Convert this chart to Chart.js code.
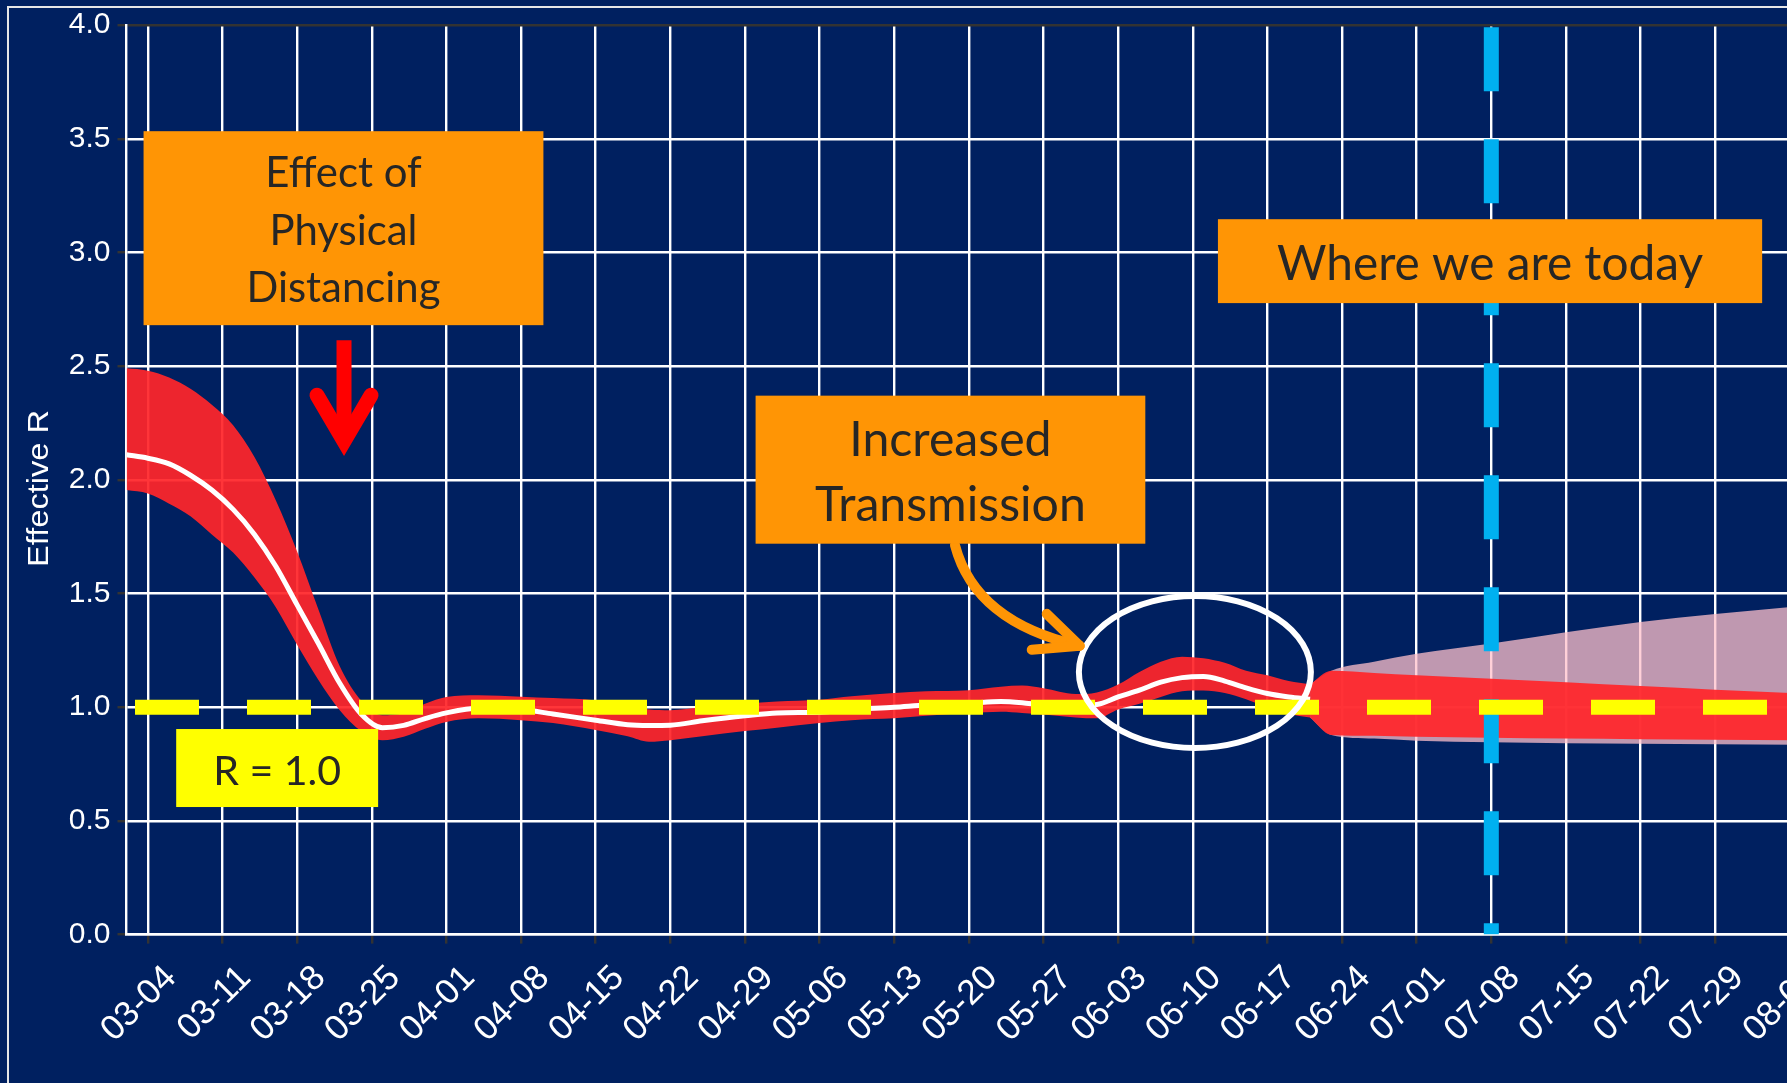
<!DOCTYPE html>
<html lang="en">
<head>
<meta charset="UTF-8" />
<title>Effective R</title>
<style>
  html, body { margin: 0; padding: 0; background: #002060; overflow: hidden; }
  #wrap { width: 1800px; height: 1083px; }
</style>
<script src="https://cdn.jsdelivr.net/npm/chart.js"></script>
</head>
<body>
<div id="wrap"><canvas id="chart" width="1800" height="1083"></canvas></div>
<script>
  // weekly tick labels (MM-DD, 2020)
  const tickLabels = ["03-04", "03-11", "03-18", "03-25", "04-01", "04-08", "04-15", "04-22",
    "04-29", "05-06", "05-13", "05-20", "05-27", "06-03", "06-10", "06-17", "06-24", "07-01",
    "07-08", "07-15", "07-22", "07-29", "08-05"];

  // estimated R: median and interval up to 06-21
  const histDates = ["03-02", "03-04", "03-06", "03-08", "03-10", "03-12", "03-14", "03-16",
    "03-18", "03-20", "03-22", "03-24", "03-26", "03-28", "03-30", "04-01", "04-04", "04-08",
    "04-11", "04-15", "04-18", "04-20", "04-22", "04-25", "04-29", "05-02", "05-06", "05-09",
    "05-13", "05-16", "05-20", "05-23", "05-25", "05-27", "05-30", "06-01", "06-03", "06-05",
    "06-07", "06-09", "06-11", "06-13", "06-15", "06-17", "06-19", "06-21"];
  const histMedian = [2.11, 2.095, 2.07, 2.02, 1.955, 1.87, 1.76, 1.62, 1.45, 1.28, 1.105, 0.97,
    0.91, 0.92, 0.95, 0.975, 0.995, 0.99, 0.97, 0.943, 0.923, 0.92, 0.921, 0.94, 0.962, 0.975,
    0.978, 0.99, 1.0, 1.01, 1.017, 1.025, 1.02, 1.01, 1.008, 1.012, 1.045, 1.075, 1.11, 1.13,
    1.135, 1.115, 1.085, 1.06, 1.045, 1.035];
  const histHigh = [2.49, 2.48, 2.45, 2.40, 2.33, 2.24, 2.10, 1.91, 1.685, 1.43, 1.18, 1.03,
    0.965, 0.975, 1.015, 1.045, 1.053, 1.046, 1.04, 1.03, 1.005, 0.99, 0.987, 1.0, 1.015, 1.025,
    1.033, 1.048, 1.062, 1.07, 1.075, 1.09, 1.095, 1.083, 1.058, 1.065, 1.10, 1.155, 1.20, 1.222,
    1.215, 1.195, 1.16, 1.14, 1.115, 1.10];
  const histLow = [1.955, 1.94, 1.895, 1.84, 1.76, 1.68, 1.57, 1.44, 1.275, 1.12, 0.987, 0.895,
    0.855, 0.87, 0.905, 0.935, 0.951, 0.943, 0.93, 0.90, 0.872, 0.848, 0.855, 0.872, 0.895, 0.91,
    0.93, 0.943, 0.951, 0.962, 0.974, 0.98, 0.975, 0.968, 0.955, 0.951, 0.99, 1.015, 1.045, 1.07,
    1.073, 1.062, 1.035, 1.0, 0.97, 0.955];

  // projection: inner (red) and outer (pink) intervals
  const fcDates = ["06-21", "06-23", "06-27", "07-01", "07-08", "07-15", "07-22", "07-29", "08-06"];
  const fcHigh = [1.10, 1.16, 1.15, 1.14, 1.125, 1.11, 1.093, 1.077, 1.06];
  const fcLow = [0.955, 0.878, 0.874, 0.870, 0.866, 0.862, 0.859, 0.857, 0.854];
  const fcWideHigh = [1.10, 1.16, 1.20, 1.235, 1.28, 1.33, 1.375, 1.41, 1.445];
  const fcWideLow = [0.955, 0.878, 0.862, 0.853, 0.846, 0.842, 0.839, 0.837, 0.835];

  const todayDate = "07-08";
  const refR = 1.0;

  const NAVY = "#002060";
  const ORANGE = "#FF9505";
  const TEXT = "#262626";

  const monthStart = { 3: -4, 4: 27, 5: 57, 6: 88, 7: 118, 8: 149 };
  function dayOf(md) {
    const [m, d] = md.split("-").map(Number);
    return monthStart[m] + d;
  }
  const pts = (dates, vals) => dates.map((d, i) => ({ x: dayOf(d), y: vals[i] }));

  // annotation boxes, placed in data units (days since 03-04, R)
  const boxes = [
    { lines: ["Effect of", "Physical", "Distancing"], x0: -0.4, x1: 37.1, y0: 3.533, y1: 2.68,
      color: ORANGE, fitWidth: 194, baselines: [55.7, 114, 170.7] },
    { lines: ["Increased", "Transmission"], x0: 57.0, x1: 93.55, y0: 2.37, y1: 1.719,
      color: ORANGE, fitWidth: 271, baselines: [60.5, 125.5] },
    { lines: ["Where we are today"], x0: 100.36, x1: 151.4, y0: 3.146, y1: 2.777,
      color: ORANGE, fitWidth: 426, baselines: [61] },
    { lines: ["R = 1.0"], x0: 2.66, x1: 21.6, y0: 0.904, y1: 0.561,
      color: "#FFFF00", fitWidth: 128, baselines: [56] },
  ];

  const background = {
    id: "background",
    beforeDraw(chart) {
      const { ctx, width, height } = chart;
      ctx.save();
      ctx.fillStyle = NAVY;
      ctx.fillRect(0, 0, width, height);
      ctx.strokeStyle = "#e6e6e6";
      ctx.lineWidth = 2;
      ctx.beginPath();
      ctx.moveTo(width, 7);
      ctx.lineTo(8, 7);
      ctx.lineTo(8, height);
      ctx.stroke();
      ctx.restore();
    },
  };

  const annotations = {
    id: "annotations",
    afterDraw(chart) {
      const { ctx, chartArea } = chart;
      const sx = chart.scales.x, sy = chart.scales.y;
      const X = (v) => sx.getPixelForValue(v);
      const Y = (v) => sy.getPixelForValue(v);
      ctx.save();

      // y axis title, stretched along its baseline to the reference length
      ctx.save();
      ctx.font = "30px 'Liberation Sans', Arial, sans-serif";
      const tw = ctx.measureText("Effective R").width;
      ctx.translate(48, 488.5);
      ctx.rotate(-Math.PI / 2);
      ctx.scale(157 / tw, 1);
      ctx.fillStyle = "#ffffff";
      ctx.textAlign = "center";
      ctx.textBaseline = "alphabetic";
      ctx.fillText("Effective R", 0, 0);
      ctx.restore();

      // ellipse around the June bump
      ctx.strokeStyle = "#ffffff";
      ctx.lineWidth = 6;
      ctx.beginPath();
      ctx.ellipse(X(98.2), Y(1.155), 116, 76, 0, 0, Math.PI * 2);
      ctx.stroke();

      // red down arrow
      const ax = X(18.4), aTop = Y(2.614), aTip = Y(2.095);
      ctx.strokeStyle = "#FF0000";
      ctx.lineWidth = 15;
      ctx.lineCap = "butt";
      ctx.beginPath();
      ctx.moveTo(ax, aTop);
      ctx.lineTo(ax, aTip - 20);
      ctx.stroke();
      ctx.lineCap = "round";
      ctx.lineJoin = "miter";
      ctx.beginPath();
      ctx.moveTo(ax - 27, aTip - 63);
      ctx.lineTo(ax, aTip - 17);
      ctx.lineTo(ax + 27, aTip - 63);
      ctx.stroke();

      // orange curved arrow
      const s = { x: X(75.7), y: Y(1.712) };
      const c = { x: X(77.6), y: Y(1.374) };
      const e = { x: X(87.4), y: Y(1.27) };
      ctx.strokeStyle = ORANGE;
      ctx.lineWidth = 10;
      ctx.lineCap = "round";
      ctx.lineJoin = "round";
      ctx.beginPath();
      ctx.moveTo(s.x, s.y);
      ctx.quadraticCurveTo(c.x, c.y, e.x, e.y);
      ctx.stroke();
      ctx.beginPath();
      ctx.moveTo(e.x - 33, e.y - 32);
      ctx.lineTo(e.x, e.y);
      ctx.lineTo(e.x - 48, e.y + 4);
      ctx.stroke();

      // text boxes
      for (const b of boxes) {
        const left = X(b.x0), right = X(b.x1), top = Y(b.y0), bottom = Y(b.y1);
        ctx.fillStyle = b.color;
        ctx.fillRect(left, top, right - left, bottom - top);
        ctx.font = "40px Lato, 'Open Sans', sans-serif";
        const widest = Math.max(...b.lines.map((l) => ctx.measureText(l).width));
        const size = (40 * b.fitWidth) / widest;
        ctx.font = size.toFixed(1) + "px Lato, 'Open Sans', sans-serif";
        ctx.fillStyle = TEXT;
        ctx.textAlign = "center";
        ctx.textBaseline = "alphabetic";
        b.lines.forEach((l, i) => ctx.fillText(l, (left + right) / 2, top + b.baselines[i]));
      }
      ctx.restore();
    },
  };

  Chart.defaults.font.family = "'Liberation Sans', Arial, sans-serif";

  const gridOpts = (topDark) => ({
    color: (c) => (topDark && c.tick && c.tick.value === 4 ? "#333333" : "#ffffff"),
    lineWidth: 2.4,
    tickLength: 9,
    tickColor: "#333333",
    tickWidth: 2.4,
  });

  const chart = new Chart(document.getElementById("chart"), {
    type: "line",
    data: {
      datasets: [
        { // R = 1 reference
          data: [{ x: -1.2, y: refR }, { x: 160, y: refR }],
          borderColor: "#FFFF00", borderWidth: 15, borderDash: [64, 48], borderCapStyle: "butt",
          pointRadius: 0, fill: false, order: 0,
        },
        { // today marker
          data: [{ x: dayOf(todayDate), y: 3.99 }, { x: dayOf(todayDate), y: 0 }],
          borderColor: "#00B0F0", borderWidth: 15, borderDash: [64, 48], borderCapStyle: "butt",
          pointRadius: 0, fill: false, order: 1,
        },
        {
          data: pts(histDates, histMedian),
          borderColor: "#ffffff", borderWidth: 5, pointRadius: 0, fill: false,
          cubicInterpolationMode: "monotone", order: 2,
        },
        {
          data: pts(histDates, histHigh),
          borderWidth: 0, pointRadius: 0, fill: "+1", backgroundColor: "rgba(255,38,42,0.93)",
          cubicInterpolationMode: "monotone", order: 3,
        },
        {
          data: pts(histDates, histLow),
          borderWidth: 0, pointRadius: 0, fill: false,
          cubicInterpolationMode: "monotone", order: 4,
        },
        {
          data: pts(fcDates, fcHigh),
          borderWidth: 0, pointRadius: 0, fill: "+1", backgroundColor: "rgba(255,38,42,0.93)",
          cubicInterpolationMode: "monotone", order: 5,
        },
        {
          data: pts(fcDates, fcLow),
          borderWidth: 0, pointRadius: 0, fill: false,
          cubicInterpolationMode: "monotone", order: 6,
        },
        {
          data: pts(fcDates, fcWideHigh),
          borderWidth: 0, pointRadius: 0, fill: "+1", backgroundColor: "rgba(255,192,203,0.75)",
          cubicInterpolationMode: "monotone", order: 7,
        },
        {
          data: pts(fcDates, fcWideLow),
          borderWidth: 0, pointRadius: 0, fill: false,
          cubicInterpolationMode: "monotone", order: 8,
        },
      ],
    },
    options: {
      responsive: false,
      devicePixelRatio: 1,
      animation: false,
      layout: { padding: { left: 0, right: 4.8, top: 22.8, bottom: 0 } },
      plugins: { legend: { display: false }, tooltip: { enabled: false } },
      scales: {
        x: {
          type: "linear",
          min: -2,
          max: 154.5,
          afterFit(s) { s.height = 148.4; s.paddingLeft = 0; s.paddingRight = 0; },
          afterBuildTicks(s) { s.ticks = tickLabels.map((t) => ({ value: dayOf(t) })); },
          ticks: {
            autoSkip: false, minRotation: 45, maxRotation: 45, color: "#ffffff",
            font: { size: 35 }, padding: 14, labelOffset: 23,
            callback: (v, i) => tickLabels[i],
          },
          grid: gridOpts(false),
          border: { color: "#ffffff", width: 2.4 },
        },
        y: {
          min: 0,
          max: 4,
          afterFit(s) { s.width = 126.5; },
          ticks: {
            stepSize: 0.5, color: "#ffffff", font: { size: 30 }, padding: 7,
            callback: (v) => v.toFixed(1),
          },
          grid: gridOpts(true),
          border: { color: "#ffffff", width: 2.4 },
        },
      },
    },
    plugins: [background, annotations],
  });
</script>
</body>
</html>
